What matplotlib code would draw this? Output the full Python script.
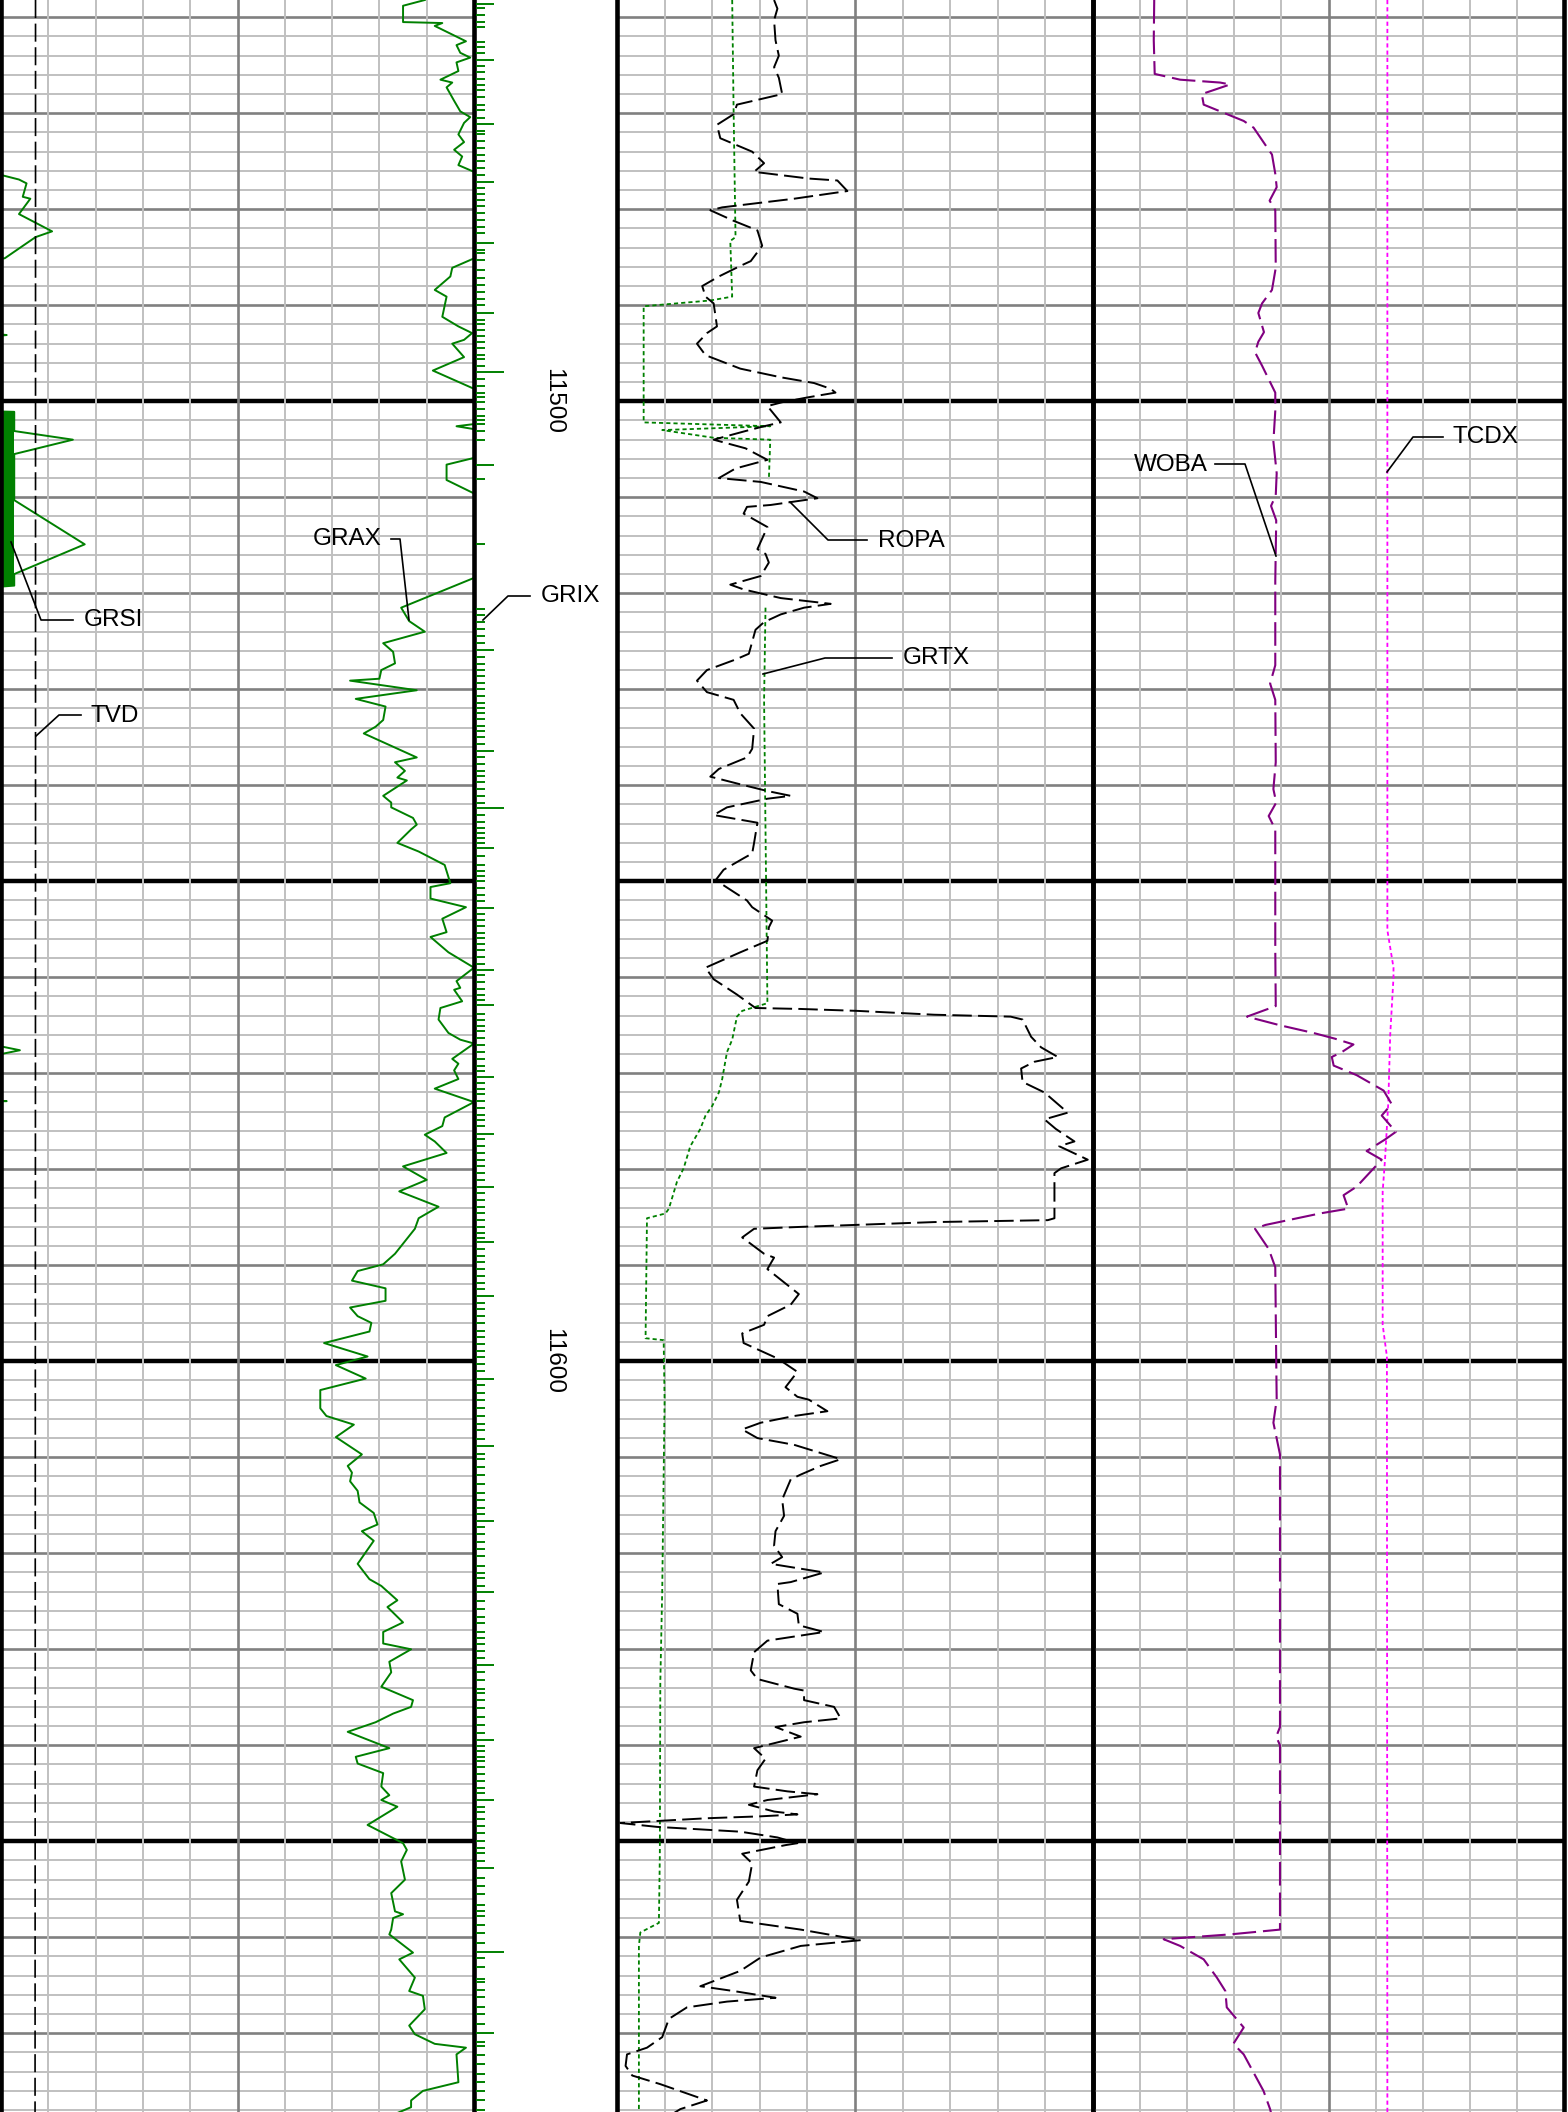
import matplotlib
matplotlib.use("Agg")
import matplotlib.pyplot as plt
import numpy as np

plt.rcParams['font.family'] = ['Liberation Sans', 'DejaVu Sans']
plt.rcParams['lines.scale_dashes'] = False

# ---------------- depth range ----------------
TOP_DEPTH = 11458.2
BASE_DEPTH = 11678.2
DEPTH_LABELS = [11500, 11600]

# ---------------- Track 1 (scale 0-10 divisions) ----------------
GRAX_DEPTH = [
    11458.2, 11458.8, 11460.5, 11460.6, 11460.9, 11462.5, 11462.9, 11463.7, 11464.2, 11464.7,
    11465.6, 11466.5, 11466.8, 11467.3, 11468.7, 11469.8, 11470.4, 11471.0, 11472.2, 11473.0,
    11473.8, 11474.5, 11475.4, 11476.1, 11476.5, 11484.8, 11485.2, 11486.1, 11487.0, 11488.4,
    11489.1, 11491.2, 11492.2, 11492.9, 11493.6, 11494.0, 11495.4, 11496.8, 11498.7, 11499.1,
    11502.2, 11502.4, 11502.6, 11502.9, 11503.2, 11505.6, 11505.9, 11506.6, 11508.2, 11509.6,
    11510.0, 11518.0, 11518.4, 11521.5, 11522.9, 11524.0, 11525.2, 11526.1, 11527.3, 11528.0,
    11528.9, 11529.1, 11530.1, 11531.0,
    11531.8, 11533.2, 11533.9, 11534.6, 11537.1, 11537.6, 11538.5, 11539.2, 11539.5, 11541.1,
    11541.8, 11542.3, 11543.4, 11544.1, 11544.6, 11546.0, 11546.9, 11548.3, 11550.2, 11550.6,
    11551.8, 11552.7, 11553.9, 11555.3, 11555.8, 11557.4, 11559.0, 11560.4, 11561.1, 11561.3,
    11562.5, 11563.2, 11564.4, 11565.8, 11566.5, 11566.9, 11568.5, 11569.0, 11569.7, 11570.6,
    11571.6, 11573.0, 11574.6, 11575.5, 11576.4, 11577.1, 11578.3, 11579.7, 11581.1, 11582.3,
    11583.9, 11585.1, 11586.2, 11588.8, 11589.9, 11590.6, 11591.6, 11592.4, 11593.7, 11594.4,
    11595.3, 11596.0, 11596.9, 11598.1, 11599.5, 11600.4, 11601.8, 11603.0, 11604.0,
    11604.9, 11605.7, 11606.6, 11607.9, 11609.7, 11610.9, 11611.6, 11612.5, 11613.5, 11614.7,
    11615.8, 11617.0, 11617.7, 11618.7, 11621.1, 11622.7, 11623.4, 11624.9, 11625.6, 11627.2,
    11628.2, 11629.4, 11630.0, 11631.3, 11632.4, 11633.9, 11635.3, 11636.0, 11636.7, 11637.6,
    11638.6, 11640.3, 11641.2, 11641.9, 11642.9, 11644.3, 11645.2, 11645.7, 11646.4, 11648.3,
    11650.2, 11650.9, 11652.1, 11654.0, 11655.4, 11657.3, 11657.6, 11658.0, 11659.2, 11659.7,
    11661.6, 11662.3, 11664.2, 11665.6, 11666.1, 11667.5, 11669.2, 11670.1, 11671.1, 11671.5,
    11672.2, 11675.1, 11676.0, 11677.0, 11677.7, 11678.3]
GRAX_VALUE = [
    8.96, 8.50, 8.50, 9.33, 9.17, 9.83, 9.63, 9.71, 9.92, 9.63,
    9.67, 9.29, 9.54, 9.42, 9.58, 9.71, 9.92, 9.79, 9.67, 9.79,
    9.58, 9.75, 9.67, 10.0, 10.6, 10.6, 9.96, 9.54, 9.50, 9.17,
    9.42, 9.33, 9.67, 9.96, 9.79, 9.54, 9.79, 9.13, 10.0, 10.6,
    10.6, 9.96, 9.63, 10.0, 10.6, 10.6, 10.0, 9.42, 9.42, 10.0,
    10.6, 10.6, 10.0, 8.46, 8.63, 8.96, 8.08, 8.29, 8.33, 8.04,
    8.00, 7.38, 8.79, 7.50,
    8.13, 8.08, 7.92, 7.67, 8.79, 8.33, 8.54, 8.38, 8.58, 8.08,
    8.25, 8.25, 8.71, 8.79, 8.67, 8.38, 8.83, 9.38, 9.50, 9.08,
    9.08, 9.83, 9.33, 9.42, 9.08, 9.46, 10.0, 9.63, 9.71, 9.58,
    9.75, 9.29, 9.25, 9.46, 9.71, 10.0, 9.54, 9.67, 9.58, 9.67,
    9.17, 10.0, 9.38, 9.33, 8.96, 9.17, 9.42, 8.50, 9.00, 8.42,
    9.25, 8.83, 8.75, 8.33, 8.08, 7.54, 7.42, 8.13, 8.13, 7.38,
    7.54, 7.83, 7.79, 6.83, 7.75, 7.08, 7.71, 6.75, 6.75,
    6.75, 6.88, 7.46, 7.08, 7.63, 7.33, 7.42, 7.38, 7.54, 7.58,
    7.88, 7.96, 7.63, 7.88, 7.54, 7.79, 8.04, 8.38, 8.17, 8.50,
    8.08, 8.08, 8.67, 8.21, 8.25, 8.04, 8.71, 8.67, 8.29, 7.92,
    7.33, 8.21, 7.50, 7.54, 8.08, 8.04, 8.21, 8.04, 8.38, 7.75,
    8.50, 8.58, 8.46, 8.54, 8.25, 8.33, 8.50, 8.29, 8.25, 8.21,
    8.71, 8.42, 8.75, 8.63, 8.92, 8.96, 8.63, 8.75, 9.17, 9.83,
    9.63, 9.67, 8.92, 8.67, 8.67, 8.38]

GRSI_DEPTH = [11458.2, 11475.8, 11476.9, 11477.3, 11478.7, 11478.9, 11480.5, 11482.3, 11482.9,
              11485.1, 11485.5, 11492.8, 11493.1, 11493.4, 11501.0, 11501.1, 11503.1, 11504.0,
              11505.5, 11510.3, 11514.9, 11518.0, 11519.2, 11519.5, 11566.7, 11567.6, 11568.5,
              11572.8, 11572.9, 11573.0, 11678.2]
GRSI_VALUE = [-0.5, -0.5, 0.38, 0.54, 0.46, 0.62, 0.38, 1.08, 0.73,
              0.08, -0.5, -0.5, 0.12, -0.5, -0.5, 0.28, 0.28, 1.52,
              0.28, 0.28, 1.77, 0.28, 0.28, -0.5, -0.5, 0.40, -0.5,
              -0.5, 0.12, -0.5, -0.5]
GRSI_BAR_TOP = 11501.1
GRSI_BAR_BASE = 11519.2
GRSI_BAR_VALUE = 0.28

TVD_DEPTH = [11458.2, 11546.0, 11678.2]
TVD_VALUE = [0.73, 0.73, 0.72]

# ---------------- Depth track: GRIX ticks ----------------
GRIX_LONG = [11496.9, 11542.4, 11661.5]
GRIX_MEDIUM = [11458.6, 11464.4, 11471.1, 11477.2, 11483.5, 11490.8, 11506.6, 11525.9, 11536.4,
               11546.5, 11552.8, 11559.2, 11562.9, 11570.4, 11576.3, 11581.8, 11587.6, 11593.2,
               11601.8, 11608.8, 11616.6, 11624.0, 11631.6, 11639.4, 11645.7, 11652.8, 11670.0]
GRIX_SHORT = [
    11459.0, 11459.8, 11460.5, 11461.0, 11462.6, 11463.1, 11463.7, 11465.1, 11465.7, 11466.4,
    11467.1, 11467.6, 11468.3, 11469.1, 11469.7, 11470.5, 11471.8, 11472.2, 11472.9, 11473.6,
    11474.3, 11475.0, 11475.7, 11476.4, 11477.8, 11478.4, 11479.0, 11479.7, 11480.4, 11481.1,
    11481.8, 11482.5, 11484.2, 11484.6, 11485.3, 11486.3, 11487.2, 11487.9, 11488.6, 11489.3,
    11490.0, 11491.5, 11492.0, 11492.6, 11493.2, 11493.8, 11494.5, 11495.2, 11495.6, 11496.3,
    11497.7, 11498.4, 11499.1, 11499.6, 11500.1, 11500.8, 11501.5, 11501.9, 11502.4, 11503.1,
    11504.0, 11508.1, 11514.9, 11521.6, 11522.3, 11523.0, 11523.7, 11524.5, 11525.2, 11526.6,
    11527.4, 11528.0, 11528.6, 11529.3, 11530.0, 11530.7, 11531.4,
    11531.9, 11532.5, 11533.1, 11533.8, 11534.3, 11535.0, 11535.7, 11537.1, 11537.8, 11538.5,
    11539.0, 11539.7, 11540.4, 11541.1, 11541.8, 11543.1, 11543.8, 11544.4, 11545.0, 11545.5,
    11546.0, 11547.4, 11548.3, 11548.9, 11549.5, 11550.0, 11550.7, 11551.4, 11552.1, 11553.4,
    11554.0, 11554.7, 11555.4, 11555.9, 11556.5, 11557.2, 11557.9, 11558.6, 11559.8, 11560.5,
    11561.2, 11561.8, 11562.4, 11563.8, 11564.5, 11565.1, 11565.6, 11566.3, 11567.1, 11567.8,
    11568.5, 11569.2, 11569.8, 11571.0, 11571.6, 11572.2, 11572.9, 11573.6, 11574.3, 11574.9,
    11575.5, 11576.8, 11577.6, 11578.3, 11579.0, 11579.7, 11580.4, 11581.1, 11582.5, 11583.2,
    11583.9, 11584.6, 11585.3, 11586.0, 11586.6, 11587.2, 11588.3, 11589.0, 11589.7, 11590.4,
    11591.1, 11591.8, 11592.5, 11593.9, 11594.6, 11595.3, 11596.0, 11596.8, 11597.5, 11598.2,
    11598.9, 11599.6, 11600.3, 11601.0, 11602.5, 11603.3, 11604.0,
    11604.9, 11605.7, 11606.5, 11607.2, 11608.1, 11609.7, 11610.2, 11611.0, 11611.8, 11612.8,
    11613.7, 11614.5, 11615.3, 11615.9, 11617.3, 11618.0, 11618.8, 11619.6, 11620.3, 11621.3,
    11622.1, 11622.6, 11623.4, 11625.0, 11625.8, 11626.6, 11627.3, 11628.2, 11628.8, 11629.5,
    11630.2, 11630.9, 11632.4, 11633.2, 11634.1, 11634.6, 11635.3, 11636.1, 11637.1, 11637.9,
    11638.7, 11640.1, 11640.6, 11641.2, 11641.6, 11642.3, 11643.0, 11643.7, 11644.4, 11645.0,
    11646.4, 11647.0, 11647.7, 11648.4, 11649.1, 11650.0, 11650.7, 11651.2, 11652.1, 11653.8,
    11654.7, 11655.5, 11656.6, 11657.3, 11657.8, 11658.7, 11659.6, 11660.6, 11662.2, 11663.1,
    11664.3, 11664.7, 11665.5, 11666.2, 11667.3, 11668.0, 11669.0, 11670.9, 11671.3, 11672.3,
    11673.2, 11674.2, 11675.1, 11676.0, 11676.9, 11678.0]

# ---------------- Track 2 ----------------
ROPA_DEPTH = [
    11458.2, 11459.1, 11460.3, 11462.4, 11464.0, 11465.2, 11466.3, 11468.0, 11469.1, 11470.1,
    11471.2, 11472.6, 11474.0, 11475.2, 11476.1, 11476.8, 11477.0, 11478.1, 11478.9, 11479.8,
    11480.1, 11481.2, 11482.2, 11483.8, 11485.4, 11485.9, 11487.0, 11488.0, 11489.1, 11489.8,
    11492.2, 11492.9, 11494.0, 11495.2, 11496.6, 11497.5, 11498.1, 11498.7, 11499.1, 11499.6,
    11500.1, 11500.5, 11502.2, 11502.6, 11503.1, 11504.0, 11504.9, 11506.1, 11507.0, 11508.0,
    11508.4, 11509.4, 11510.1, 11510.5, 11510.8, 11511.0, 11511.7, 11513.1, 11515.4, 11515.9,
    11516.8, 11518.2, 11519.1, 11519.6, 11520.5, 11521.1, 11521.5, 11522.2, 11523.0, 11523.8,
    11526.3, 11526.9, 11528.0, 11529.1, 11530.3, 11531.1,
    11532.5, 11534.1, 11536.2, 11537.1, 11538.3, 11539.1, 11539.9, 11540.6, 11541.1, 11541.4,
    11542.3, 11543.1, 11543.9, 11546.0, 11547.1, 11547.6, 11548.8, 11549.9, 11550.2, 11552.0,
    11552.7, 11554.1, 11554.8, 11556.2, 11557.4, 11559.0, 11560.2, 11561.8, 11563.2, 11563.3,
    11563.5, 11563.9, 11564.1, 11564.4, 11566.2, 11567.3, 11568.3, 11568.8, 11569.5, 11570.9,
    11572.0, 11574.1, 11574.8, 11575.8, 11577.1, 11577.6, 11579.0, 11579.9, 11580.4, 11585.1,
    11585.3, 11585.5, 11586.0, 11586.2, 11587.1, 11588.8, 11589.2, 11590.4, 11593.0, 11594.1,
    11595.3, 11596.2, 11597.1, 11598.1, 11599.7, 11601.1, 11602.7, 11603.7,
    11604.0, 11605.2, 11605.7, 11606.4, 11607.1, 11608.0, 11608.7, 11610.2, 11610.9, 11611.8,
    11612.3, 11614.4, 11616.1, 11617.7, 11619.2, 11620.4, 11621.1, 11622.0, 11623.0, 11623.2,
    11625.3, 11626.3, 11627.5, 11628.2, 11629.1, 11630.3, 11632.2, 11633.1, 11634.1, 11634.3,
    11635.3, 11636.0, 11637.2, 11637.6, 11638.1, 11639.1, 11640.3, 11641.4, 11642.6, 11644.3,
    11644.8, 11645.1, 11645.7, 11646.2, 11646.9, 11647.2, 11647.4, 11647.6, 11648.1, 11648.5,
    11649.0, 11649.6, 11650.2, 11650.4, 11651.3, 11652.3, 11654.2, 11656.1, 11658.3, 11659.2,
    11660.3, 11660.9, 11662.1, 11663.5, 11665.1, 11665.6, 11666.3, 11666.7, 11667.3, 11668.5,
    11670.4, 11671.5, 11672.2, 11673.4, 11674.4, 11675.3, 11677.0, 11677.9, 11678.3]
ROPA_VALUE = [
    3.30, 3.37, 3.30, 3.33, 3.40, 3.30, 3.40, 3.47, 2.52, 2.45,
    2.10, 2.17, 2.84, 3.09, 2.88, 4.03, 4.63, 4.84, 3.72, 2.21,
    1.96, 2.45, 2.95, 3.05, 2.81, 2.59, 2.14, 1.79, 1.86, 2.03,
    2.10, 1.89, 1.68, 1.86, 2.59, 3.44, 4.14, 4.49, 4.59, 4.00,
    3.47, 3.16, 3.44, 3.09, 2.70, 2.03, 2.70, 3.16, 2.49, 2.14,
    3.02, 3.93, 4.21, 3.65, 3.23, 2.73, 2.66, 3.16, 2.95, 3.12,
    3.19, 3.02, 2.38, 2.66, 3.44, 4.49, 3.93, 3.44, 3.09, 2.91,
    2.77, 2.49, 1.89, 1.68, 1.89, 2.45,
    2.59, 2.88, 2.84, 2.73, 2.14, 1.96, 2.59, 3.16, 3.65, 3.16,
    2.31, 2.03, 2.95, 2.88, 2.84, 2.66, 2.24, 2.07, 2.17, 2.73,
    2.84, 3.26, 3.19, 3.16, 2.59, 1.86, 2.03, 2.52, 2.91, 3.86,
    5.05, 6.66, 8.27, 8.52, 8.70, 8.91, 9.26, 8.77, 8.49, 8.52,
    8.98, 9.47, 8.98, 9.22, 9.61, 9.29, 9.89, 9.33, 9.19, 9.19,
    9.05, 6.66, 3.86, 2.88, 2.63, 3.09, 3.30, 3.16, 3.82, 3.65,
    3.16, 3.09, 2.63, 2.66, 3.37, 3.79, 3.54, 3.79,
    4.03, 4.42, 3.72, 3.02, 2.63, 2.95, 3.72, 4.70, 4.28, 3.86,
    3.65, 3.47, 3.51, 3.33, 3.30, 3.47, 3.23, 4.35, 3.65, 3.37,
    3.40, 3.79, 3.82, 4.35, 3.16, 2.88, 2.81, 2.95, 3.72, 3.93,
    3.93, 4.56, 4.70, 3.93, 3.33, 3.86, 2.88, 3.12, 2.95, 2.88,
    3.58, 4.21, 3.16, 2.77, 3.30, 3.79, 3.02, 1.89, 0.07, 0.84,
    2.59, 3.37, 3.79, 3.54, 2.63, 2.84, 2.77, 2.52, 2.59, 3.86,
    5.12, 3.86, 3.02, 2.59, 1.75, 2.45, 3.33, 2.31, 1.47, 1.09,
    0.95, 0.63, 0.21, 0.18, 0.32, 0.91, 1.89, 1.33, 1.20]

GRTX_DEPTH = [11458.2, 11469.8, 11482.9, 11483.3, 11489.1, 11489.5, 11490.1, 11502.2, 11502.6,
              11503.0, 11503.8, 11504.0, 11508.2, np.nan, 11521.5, 11531.1, 11562.7, 11563.5,
              11564.1, 11566.5, 11567.8, 11570.6, 11572.0, 11573.4, 11574.4, 11575.8, 11577.6,
              11579.9, 11581.3, 11584.1, 11584.6, 11585.1, 11597.6, 11597.8, 11604.0, 11623.9,
              11633.4, 11651.4, 11658.5, 11659.5, 11660.9, 11678.2]
GRTX_VALUE = [2.42, 2.45, 2.49, 2.38, 2.42, 1.96, 0.56, 0.56, 3.22,
              0.95, 2.03, 3.22, 3.19, np.nan, 3.12, 3.09, 3.16, 2.63,
              2.52, 2.42, 2.31, 2.21, 2.14, 2.00, 1.86, 1.75, 1.54,
              1.40, 1.26, 1.09, 1.02, 0.63, 0.60, 0.98, 1.00, 0.95,
              0.91, 0.90, 0.88, 0.49, 0.46, 0.46]

# ---------------- Track 3 ----------------
WOBA_DEPTH = [
    11458.2, 11462.4, 11465.9, 11466.5, 11466.8, 11467.0, 11468.0, 11469.1, 11469.8, 11470.8,
    11471.5, 11473.3, 11474.3, 11476.3, 11477.7, 11479.1, 11480.1, 11486.1, 11488.4, 11489.8,
    11490.8, 11492.8, 11493.8, 11494.9, 11496.3, 11499.1, 11501.0, 11504.2, 11507.5, 11509.8,
    11510.9, 11512.4, 11518.7, 11527.5, 11529.4, 11531.1,
    11537.6, 11540.4, 11541.8, 11543.2, 11544.6, 11557.1, 11563.0, 11564.1, 11565.0, 11565.8,
    11566.4, 11567.0, 11567.8, 11568.3, 11569.2, 11570.2, 11571.8, 11573.2, 11574.4, 11576.1,
    11576.9, 11578.1, 11579.0, 11581.8, 11582.7, 11584.1, 11584.6, 11585.8, 11586.2, 11588.3,
    11590.2, 11599.9, 11604.0,
    11606.4, 11609.7, 11638.1, 11639.1, 11640.0, 11659.2, 11659.7, 11660.2, 11660.9, 11662.3,
    11664.2, 11665.6, 11667.3, 11669.4, 11671.1, 11672.2, 11674.1, 11676.0, 11677.9, 11678.3]
WOBA_VALUE = [
    1.30, 1.29, 1.31, 1.85, 2.70, 2.91, 2.31, 2.35, 2.70, 3.20,
    3.41, 3.66, 3.80, 3.87, 3.90, 3.75, 3.87, 3.88, 3.80, 3.59,
    3.51, 3.63, 3.51, 3.44, 3.59, 3.87, 3.87, 3.83, 3.90, 3.88,
    3.78, 3.89, 3.87, 3.87, 3.76, 3.87,
    3.88, 3.83, 3.89, 3.73, 3.87, 3.87, 3.88, 3.27, 3.97, 4.68,
    5.14, 5.53, 5.28, 5.07, 5.11, 5.60, 6.17, 6.34, 6.13, 6.43,
    6.20, 5.81, 6.13, 5.60, 5.32, 5.42, 4.82, 3.66, 3.44, 3.73,
    3.87, 3.89, 3.90,
    3.83, 3.97, 3.97, 3.89, 3.97, 3.97, 2.91, 1.50, 1.85, 2.35,
    2.63, 2.81, 2.84, 3.20, 2.98, 3.20, 3.41, 3.62, 3.76, 3.78]

TCDX_DEPTH = [11458.2, 11555.1, 11559.0, 11560.0, 11566.0, 11573.0, 11579.0, 11582.3,
              11596.2, 11599.5, 11678.2]
TCDX_VALUE = [6.25, 6.25, 6.38, 6.38, 6.31, 6.27, 6.20, 6.15, 6.15, 6.24, 6.25]

# ---------------- styling ----------------
W, H = 1568, 2112
GREEN = '#008000'
PURPLE = '#800080'
MAGENTA = '#ff00ff'
LIGHT = '#c0c0c0'
MED = '#808080'

fig = plt.figure(figsize=(W / 100, H / 100), dpi=100)
fig.patch.set_facecolor('white')


def px_axes(x0, x1):
    ax = fig.add_axes([x0 / W, 0, (x1 - x0) / W, 1])
    ax.patch.set_visible(False)
    ax.set_ylim(BASE_DEPTH, TOP_DEPTH)
    ax.set_xticks([])
    ax.set_yticks([])
    return ax


def log_track(ax):
    ax.set_xlim(0, 10)
    grid_depths = np.arange(np.ceil(TOP_DEPTH / 2) * 2, BASE_DEPTH + 0.01, 2)
    for d in grid_depths:
        if round(d) % 50 == 0:
            ax.axhline(d, color='black', lw=3.2, zorder=1.3)
        elif round(d) % 10 == 0:
            ax.axhline(d, color=MED, lw=1.9, zorder=1.2)
        else:
            ax.axhline(d, color=LIGHT, lw=1.4, zorder=1.1)
    for k in range(1, 10):
        if k == 5:
            ax.axvline(k, color=MED, lw=1.9, zorder=1.6)
        else:
            ax.axvline(k, color=LIGHT, lw=1.4, zorder=1.5)
    for side in ('top', 'bottom'):
        ax.spines[side].set_visible(False)
    for side in ('left', 'right'):
        ax.spines[side].set_linewidth(3.3)
        ax.spines[side].set_color('black')
        ax.spines[side].set_zorder(6)


ax1 = px_axes(1, 474)
log_track(ax1)
axd = px_axes(474, 617)
axd.set_xlim(0, 143)
for s in axd.spines.values():
    s.set_visible(False)
ax2 = px_axes(617, 1093)
log_track(ax2)
ax3 = px_axes(1093, 1564)
log_track(ax3)

# Track 1 curves
ax1.plot(GRAX_VALUE, GRAX_DEPTH, color=GREEN, lw=1.4, zorder=4)
ax1.plot(GRSI_VALUE, GRSI_DEPTH, color=GREEN, lw=1.4, zorder=4)
ax1.fill_betweenx([GRSI_BAR_TOP, GRSI_BAR_BASE], 0, GRSI_BAR_VALUE, color=GREEN, lw=0, zorder=4)
ax1.plot(TVD_VALUE, TVD_DEPTH, color='black', lw=1.2, ls=(0, (13, 4)), zorder=4)

# Depth track
axd.hlines(GRIX_SHORT, 2.3, 11, color=GREEN, lw=1.4)
axd.hlines(GRIX_MEDIUM, 2.3, 20, color=GREEN, lw=1.4)
axd.hlines(GRIX_LONG, 2.3, 30, color=GREEN, lw=1.4)
for dl in DEPTH_LABELS:
    axd.text(79, dl, str(dl), rotation=-90, ha='center', va='center', fontsize=17.5)

# Track 2 curves
ax2.plot(GRTX_VALUE, GRTX_DEPTH, color=GREEN, lw=1.3, ls=(0, (3, 2.2)), zorder=4)
ax2.plot(ROPA_VALUE, ROPA_DEPTH, color='black', lw=1.4, ls=(0, (14, 4.5)), zorder=4.5)

# Track 3 curves
ax3.plot(TCDX_VALUE, TCDX_DEPTH, color=MAGENTA, lw=1.3, ls=(0, (3, 2.2)), zorder=4)
ax3.plot(WOBA_VALUE, WOBA_DEPTH, color=PURPLE, lw=1.5, ls=(0, (17, 5)), zorder=4.5)

# Curve labels with leader lines (overlay in figure pixels)
ov = fig.add_axes([0, 0, 1, 1])
ov.set_xlim(0, W)
ov.set_ylim(H, 0)
ov.axis('off')
ov.patch.set_visible(False)

LABELS = [
    ('GRAX', 382, 539, 'right', [(391, 539), (400, 539), (409, 620)]),
    ('GRSI', 84, 620, 'left', [(73, 620), (41, 620), (11, 542)]),
    ('TVD', 91, 716, 'left', [(81, 715), (59, 715), (36, 736)]),
    ('GRIX', 541, 596, 'left', [(530, 596), (508, 596), (483, 620)]),
    ('ROPA', 878, 541, 'left', [(867, 540), (828, 540), (790, 502)]),
    ('GRTX', 903, 658, 'left', [(892, 658), (825, 658), (763, 674)]),
    ('WOBA', 1208, 465, 'right', [(1215, 464), (1245, 464), (1276, 556)]),
    ('TCDX', 1453, 437, 'left', [(1443, 437), (1413, 437), (1387, 472)]),
]
for name, tx, ty, ha, pts in LABELS:
    ov.text(tx, ty, name, ha=ha, va='center', fontsize=17.5, color='black')
    xs, ys = zip(*pts)
    ov.plot(xs, ys, color='black', lw=1.2)

fig.savefig('out.png', dpi=100, facecolor='white')
